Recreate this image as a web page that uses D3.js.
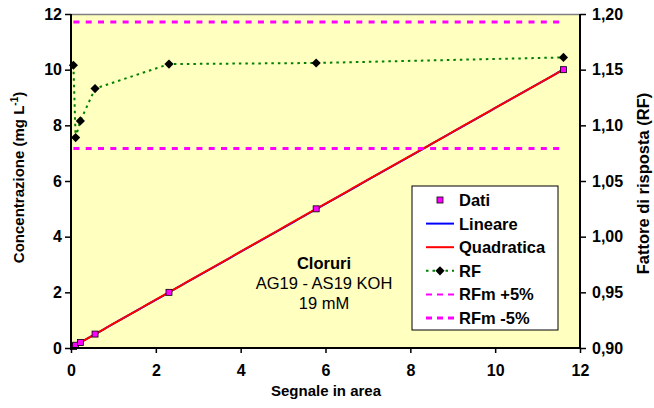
<!DOCTYPE html>
<html>
<head>
<meta charset="utf-8">
<script src="https://cdn.jsdelivr.net/npm/d3@7"></script>
<style>
	body { margin: 0; background: #fff; }
	text { font-family: "Liberation Sans", Arial, sans-serif; }
</style>
</head>
<body>
<svg id="chart" width="654" height="408"></svg>
<script>
// valori
let segnale = [0.057, 0.109, 0.221, 0.567, 2.31, 5.78, 11.61];
let concentrazione = [0.05, 0.1, 0.2, 0.5, 2, 5, 10];
let rf = [1.154, 1.089, 1.104, 1.133, 1.155, 1.156, 1.161];
let rfm = 1.136;
let xTicks = [0, 2, 4, 6, 8, 10, 12];
let yTicks = [0, 2, 4, 6, 8, 10, 12];
let rfTicks = [0.90, 0.95, 1.00, 1.05, 1.10, 1.15, 1.20];
let legenda = ["Dati", "Lineare", "Quadratica", "RF", "RFm +5%", "RFm -5%"];
let nota = ["Cloruri", "AG19 - AS19 KOH", "19 mM"];

let svg = d3.select("#chart");
let pLeft = 71, pRight = 580, pTop = 14, pBottom = 348;

let x = d3.scaleLinear().domain([0, 12]).range([pLeft, pRight]);
let y = d3.scaleLinear().domain([0, 12]).range([pBottom, pTop]);
let y2 = d3.scaleLinear().domain([0.9, 1.2]).range([pBottom, pTop]);

svg.append("rect")
	.attr("x", pLeft).attr("y", pTop)
	.attr("width", pRight - pLeft).attr("height", pBottom - pTop)
	.attr("fill", "#ffffc0");
svg.append("line")
	.attr("x1", pLeft).attr("x2", pRight).attr("y1", pTop + 0.5).attr("y2", pTop + 0.5)
	.attr("stroke", "#808080").attr("stroke-width", 1.5);

// regressioni (minimi quadrati)
function fitLineare(xs, ys) {
	let mx = d3.mean(xs), my = d3.mean(ys);
	let sxy = d3.sum(xs, (v, i) => (v - mx) * (ys[i] - my));
	let sxx = d3.sum(xs, v => (v - mx) * (v - mx));
	let b = sxy / sxx;
	return v => my + b * (v - mx);
}
function fitQuadratico(xs, ys) {
	let s = k => d3.sum(xs, v => Math.pow(v, k));
	let t = k => d3.sum(xs, (v, i) => Math.pow(v, k) * ys[i]);
	let m = [[s(0), s(1), s(2), t(0)], [s(1), s(2), s(3), t(1)], [s(2), s(3), s(4), t(2)]];
	for (let i = 0; i < 3; i++) {
		for (let j = i + 1; j < 3; j++) {
			let f = m[j][i] / m[i][i];
			for (let k = i; k < 4; k++) m[j][k] -= f * m[i][k];
		}
	}
	let c = [0, 0, 0];
	for (let i = 2; i >= 0; i--) {
		let r = m[i][3];
		for (let k = i + 1; k < 3; k++) r -= m[i][k] * c[k];
		c[i] = r / m[i][i];
	}
	return v => c[0] + c[1] * v + c[2] * v * v;
}
let lin = fitLineare(segnale, concentrazione);
let quad = fitQuadratico(segnale, concentrazione);
let xs = d3.range(0, 101).map(i => d3.min(segnale) + (d3.max(segnale) - d3.min(segnale)) * i / 100);
let line = d3.line().x(d => x(d[0])).y(d => y(d[1]));

svg.append("path").datum(xs.map(v => [v, lin(v)]))
	.attr("d", line).attr("fill", "none").attr("stroke", "#0000ff").attr("stroke-width", 2);
svg.append("path").datum(xs.map(v => [v, quad(v)]))
	.attr("d", line).attr("fill", "none").attr("stroke", "#ff0000").attr("stroke-width", 2);

// RFm +/- 5%
[rfm * 1.05, rfm * 0.95].forEach(v => {
	svg.append("line")
		.attr("x1", x(d3.min(segnale))).attr("x2", x(d3.max(segnale)))
		.attr("y1", y2(v)).attr("y2", y2(v))
		.attr("stroke", "#ff00ff").attr("stroke-width", 3)
		.attr("stroke-dasharray", "6,6.3");
});

// RF
let rfLine = d3.line().x((d, i) => x(segnale[i])).y(d => y2(d));
svg.append("path").datum(rf)
	.attr("d", rfLine).attr("fill", "none")
	.attr("stroke", "#008000").attr("stroke-width", 2).attr("stroke-dasharray", "2.5,4");
let diamond = d3.symbol().type(d3.symbolSquare).size(42);
svg.selectAll(".rf").data(rf).join("path")
	.attr("class", "rf")
	.attr("d", diamond)
	.attr("transform", (d, i) => `translate(${x(segnale[i])},${y2(d)}) rotate(45)`)
	.attr("fill", "#000");

// Dati
svg.selectAll(".dati").data(concentrazione).join("rect")
	.attr("class", "dati")
	.attr("x", (d, i) => x(segnale[i]) - 3).attr("y", d => y(d) - 3)
	.attr("width", 6).attr("height", 6)
	.attr("fill", "#ff00ff").attr("stroke", "#000").attr("stroke-width", 0.8);

// assi
let axL = svg.append("g").attr("transform", `translate(${pLeft},0)`)
	.call(d3.axisLeft(y).tickValues(yTicks).tickSize(6).tickPadding(3));
let axR = svg.append("g").attr("transform", `translate(${pRight},0)`)
	.call(d3.axisRight(y2).tickValues(rfTicks).tickSize(6).tickPadding(6)
		.tickFormat(d => d3.format(".2f")(d).replace(".", ",")));
let axB = svg.append("g").attr("transform", `translate(0,${pBottom})`)
	.call(d3.axisBottom(x).tickValues(xTicks).tickSize(5).tickPadding(12));
[axL, axR, axB].forEach(a => {
	a.select(".domain").attr("stroke", "#000").attr("stroke-width", 2);
	a.selectAll(".tick line").attr("stroke", "#000").attr("stroke-width", 1.5);
	a.selectAll("text").attr("font-size", 16).attr("font-weight", "bold").attr("fill", "#000");
});
axL.select(".domain").attr("d", `M0,${pTop}V${pBottom}`);
axR.select(".domain").attr("d", `M0,${pTop}V${pBottom}`);
axB.select(".domain").attr("d", `M${pLeft},0H${pRight}`);

// titoli
svg.append("text").attr("x", 326).attr("y", 396).attr("text-anchor", "middle")
	.attr("font-size", 15).attr("font-weight", "bold").text("Segnale in area");
let tl = svg.append("text").attr("transform", "translate(24,177.5) rotate(-90)")
	.attr("text-anchor", "middle").attr("font-size", 15).attr("font-weight", "bold");
tl.append("tspan").text("Concentrazione (mg L");
tl.append("tspan").attr("dy", -6).attr("font-size", 10).text("-1");
tl.append("tspan").attr("dy", 6).text(")");
svg.append("text").attr("transform", "translate(649,183.5) rotate(-90)")
	.attr("text-anchor", "middle").attr("font-size", 16.5).attr("font-weight", "bold")
	.text("Fattore di risposta (RF)");

// nota
svg.append("text").attr("x", 324).attr("y", 269).attr("text-anchor", "middle")
	.attr("font-size", 16.5).attr("font-weight", "bold").text(nota[0]);
svg.append("text").attr("x", 324).attr("y", 288.5).attr("text-anchor", "middle")
	.attr("font-size", 16.5).text(nota[1]);
svg.append("text").attr("x", 324).attr("y", 308.5).attr("text-anchor", "middle")
	.attr("font-size", 16.5).text(nota[2]);

// legenda
let lg = svg.append("g");
lg.append("rect").attr("x", 412).attr("y", 186).attr("width", 146).attr("height", 144)
	.attr("fill", "#fff").attr("stroke", "#000").attr("stroke-width", 1);
legenda.forEach((t, i) => {
	let cy = 200 + i * 23.6;
	if (i == 0) {
		lg.append("rect").attr("x", 437).attr("y", cy - 3).attr("width", 6).attr("height", 6)
			.attr("fill", "#ff00ff").attr("stroke", "#000").attr("stroke-width", 0.8);
	} else if (i == 1 || i == 2) {
		lg.append("line").attr("x1", 426).attr("x2", 454).attr("y1", cy).attr("y2", cy)
			.attr("stroke", i == 1 ? "#0000ff" : "#ff0000").attr("stroke-width", 2);
	} else if (i == 3) {
		lg.append("line").attr("x1", 426).attr("x2", 454).attr("y1", cy).attr("y2", cy)
			.attr("stroke", "#008000").attr("stroke-width", 2).attr("stroke-dasharray", "2.5,4");
		lg.append("path").attr("d", diamond).attr("transform", `translate(440,${cy}) rotate(45)`)
			.attr("fill", "#000");
	} else {
		lg.append("line").attr("x1", 426).attr("x2", 454).attr("y1", cy).attr("y2", cy)
			.attr("stroke", "#ff00ff").attr("stroke-width", i == 4 ? 2 : 3)
			.attr("stroke-dasharray", "6,5");
	}
	lg.append("text").attr("x", 459).attr("y", cy + 6).attr("font-size", 16.5)
		.attr("font-weight", "bold").text(t);
});
</script>
</body>
</html>
